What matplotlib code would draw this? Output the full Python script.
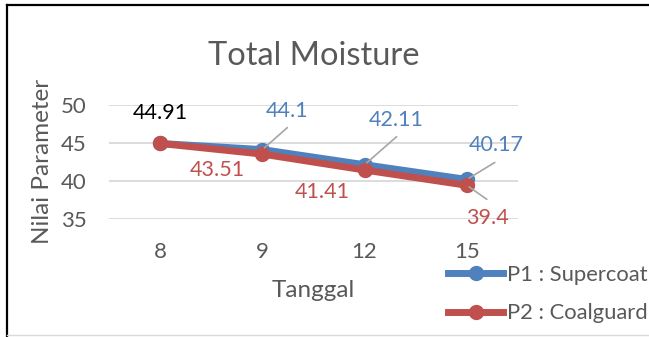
import matplotlib
matplotlib.use("Agg")
import matplotlib.pyplot as plt
from matplotlib.lines import Line2D

plt.rcParams["font.family"] = ["Lato", "DejaVu Sans"]

# Data
tanggal = ["8", "9", "12", "15"]
p1_supercoat = [44.91, 44.1, 42.11, 40.17]
p2_coalguard = [44.91, 43.51, 41.41, 39.4]
series_names = ["P1 : Supercoat", "P2 : Coalguard"]
y_ticks = [35, 40, 45, 50]

BLUE = "#4F81BD"
RED = "#C0504D"
GREY_TXT = "#595959"
GRID = "#D9D9D9"
LEADER = "#A6A6A6"

fig = plt.figure(figsize=(6.49, 3.37), dpi=100)
ax = fig.add_axes([0.168, 0.351, 0.630, 0.338])

x = list(range(len(tanggal)))
ax.plot(x, p1_supercoat, color=BLUE, lw=5, marker="o", ms=10,
        solid_capstyle="round", label=series_names[0], zorder=3)
ax.plot(x, p2_coalguard, color=RED, lw=5, marker="o", ms=10,
        solid_capstyle="round", label=series_names[1], zorder=4)

ax.set_xlim(-0.5, len(tanggal) - 0.5)
ax.set_ylim(35, 50)
ax.set_yticks(y_ticks)
ax.set_xticks(x)
ax.set_xticklabels(tanggal)
ax.grid(axis="y", color=GRID, lw=1.3)
ax.set_axisbelow(True)
for s in ax.spines.values():
    s.set_visible(False)
ax.tick_params(length=0, labelsize=16, colors=GREY_TXT)
ax.tick_params(axis="y", pad=16)
ax.tick_params(axis="x", pad=17)

ax.set_title("Total Moisture", fontsize=23.5, color=GREY_TXT, pad=29)
ax.set_xlabel("Tanggal", fontsize=17.5, color=GREY_TXT, labelpad=13)
ax.set_ylabel("Nilai Parameter", fontsize=17.5, color=GREY_TXT, labelpad=6)

lbl_fs = 15.5


def label(i, vals, text_off, color, leader=None):
    ax.annotate(f"{vals[i]:g}", xy=(x[i], vals[i]), xytext=text_off,
                textcoords="offset pixels", ha="center", va="center",
                fontsize=lbl_fs, color=color, zorder=6)
    if leader is not None:
        (x0, y0), (x1, y1) = leader
        ax.annotate("", xy=(x[i], vals[i]), xytext=(x1, y1),
                    textcoords="offset pixels",
                    arrowprops=dict(arrowstyle="-", color=LEADER, lw=1.2,
                                    shrinkA=0, shrinkB=2),
                    zorder=5)


# shared start point
label(0, p1_supercoat, (0, 30), "black")
# P1 labels above with leader lines
label(1, p1_supercoat, (25, 39), BLUE, ((0, 0), (25, 22)))
label(2, p1_supercoat, (32, 45), BLUE, ((0, 0), (32, 28)))
label(3, p1_supercoat, (29, 34), BLUE, ((0, 0), (28, 17)))
# P2 labels below
label(1, p2_coalguard, (-45, -16), RED)
label(2, p2_coalguard, (-42, -22), RED)
label(3, p2_coalguard, (21, -33), RED, ((0, 0), (20, -14)))

handles = [Line2D([], [], color=BLUE, lw=5, marker="o", ms=10),
           Line2D([], [], color=RED, lw=5, marker="o", ms=10)]
leg = fig.legend(handles, series_names, loc="center left",
                 bbox_to_anchor=(0.677, 0.128), frameon=False,
                 fontsize=15.8, handlelength=2.5, handletextpad=0.2,
                 labelspacing=0.85, borderaxespad=0)
for t in leg.get_texts():
    t.set_color(GREY_TXT)

# chart frame edges
fig.add_artist(Line2D([0.011, 0.011], [0.0, 0.985], color="black", lw=1.6,
                      transform=fig.transFigure))
fig.add_artist(Line2D([0.011, 1.0], [0.985, 0.985], color="black", lw=1.6,
                      transform=fig.transFigure))
fig.add_artist(Line2D([0.011, 1.0], [0.006, 0.006], color="#D9D9D9", lw=1,
                      transform=fig.transFigure))

fig.savefig("out.png", dpi=100)
